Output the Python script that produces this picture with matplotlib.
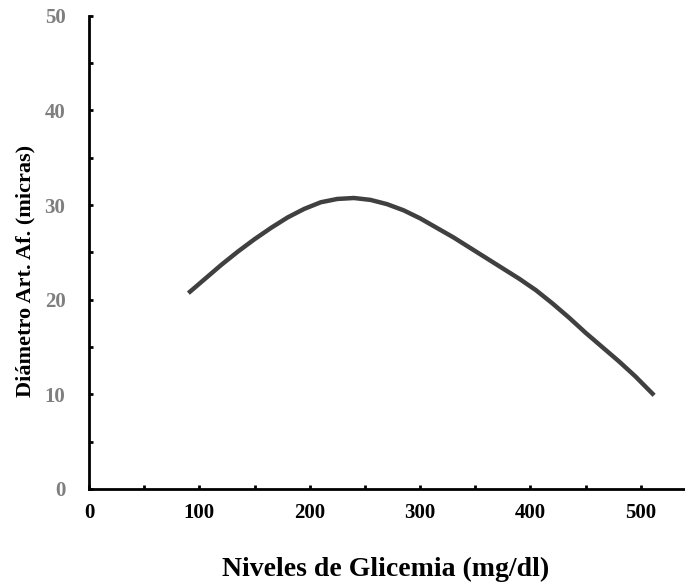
import matplotlib.pyplot as plt

# curve
glicemia = [90, 105, 120, 135, 150, 165, 180, 195, 210, 225, 240, 255, 270, 285,
            300, 315, 330, 345, 360, 375, 390, 405, 420, 435, 450, 465, 480, 495, 512]
diametro = [20.7, 22.2, 23.7, 25.1, 26.4, 27.6, 28.7, 29.6, 30.3, 30.65, 30.75, 30.55, 30.1, 29.45,
            28.6, 27.6, 26.6, 25.5, 24.4, 23.3, 22.2, 21.0, 19.6, 18.1, 16.5, 15.0, 13.5, 11.9, 9.9]

x_ticks = [0, 100, 200, 300, 400, 500]
y_ticks = [0, 10, 20, 30, 40, 50]

plt.rcParams['font.family'] = ['Liberation Serif', 'DejaVu Serif']

fig = plt.figure(figsize=(6.85, 5.87), dpi=100)
ax = fig.add_axes([0.130, 0.167, 0.87, 0.806])

ax.plot(glicemia, diametro, color='#404040', linewidth=3.2,
        solid_capstyle='butt', solid_joinstyle='round')

ax.set_xlim(0, 540)
ax.set_ylim(0, 50)
ax.set_xticks(x_ticks)
ax.set_yticks(y_ticks)
ax.set_xticks(range(50, 540, 100), minor=True)
ax.set_yticks(range(5, 50, 10), minor=True)

for s in ['top', 'right']:
    ax.spines[s].set_visible(False)
for s in ['left', 'bottom']:
    ax.spines[s].set_linewidth(2.0)
    ax.spines[s].set_color('black')

ax.tick_params(which='both', direction='in', length=3, width=2, color='black')
ax.tick_params(axis='x', pad=10, labelsize=15, labelcolor='black')
ax.tick_params(axis='y', pad=17, labelsize=15, labelcolor='#7f7f7f')
for lab in ax.get_xticklabels() + ax.get_yticklabels():
    lab.set_fontweight('bold')

ax.set_ylabel('Diámetro Art. Af. (micras)', fontsize=16, fontweight='bold')
ax.yaxis.set_label_coords(-0.107, 0.46)
ax.yaxis.label.set_verticalalignment('center')
ax.set_xlabel('Niveles de Glicemia (mg/dl)', fontsize=20, fontweight='bold')
ax.xaxis.set_label_coords(0.497, -0.171)
ax.xaxis.label.set_verticalalignment('center')

fig.savefig('out.png', dpi=100)
